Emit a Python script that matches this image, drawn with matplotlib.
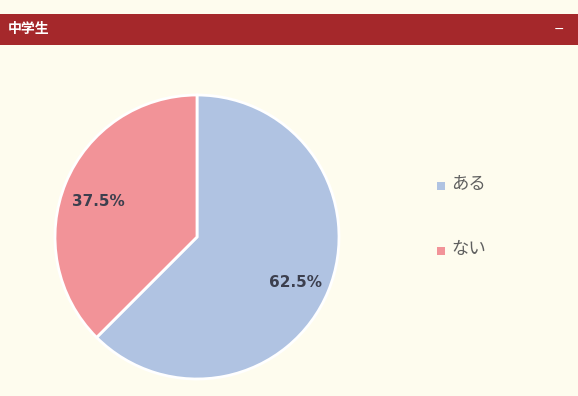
import matplotlib
matplotlib.use("Agg")
import matplotlib.pyplot as plt
from matplotlib.patches import Rectangle

plt.rcParams['font.family'] = ['Noto Sans CJK JP', 'DejaVu Sans']

title = "中学生"
labels = ["ある", "ない"]
values = [62.5, 37.5]
colors = ["#B0C3E2", "#F29398"]

W, H = 578, 396
fig = plt.figure(figsize=(W/100, H/100), dpi=100)
fig.patch.set_facecolor("#FEFCEE")

# header bar
fig.patches.append(Rectangle((0, 1 - 45/H), 1, 31/H, transform=fig.transFigure,
                             facecolor="#A5282B", edgecolor="none", zorder=0))
fig.text(8/W, 1 - 29.5/H, title, color="white", fontsize=10, fontweight="bold",
         va="center", ha="left")
fig.text(559/W, 1 - 29/H, "−", color="white", fontsize=9, va="center", ha="center",
         family=['DejaVu Sans'])

cx, cy, r = 197, 237, 142
ax = fig.add_axes([(cx - r)/W, 1 - (cy + r)/H, 2*r/W, 2*r/H])
wedges, texts, autotexts = ax.pie(values, colors=colors, startangle=90, counterclock=False,
                                  autopct="%.1f%%", pctdistance=0.75,
                                  wedgeprops=dict(edgecolor="white", linewidth=2),
                                  textprops=dict(fontsize=11, fontweight="bold", color="#3C3F4E",
                                                 family=['DejaVu Sans']))
for t in autotexts:
    x, y = t.get_position()
    t.set_position((x, y - 0.035))
ax.set_aspect("equal")
ax.set_xlim(-1, 1); ax.set_ylim(-1, 1)
ax.axis("off")

# legend
leg_y = [186, 251]
for lab, col, y in zip(labels, colors, leg_y):
    fig.patches.append(Rectangle((437/W, 1 - (y + 4)/H), 8/W, 8/H, transform=fig.transFigure,
                                 facecolor=col, edgecolor="none"))
    fig.text(451/W, 1 - (y - 2)/H, lab, color="#5F5F5F", fontsize=12.5, va="center", ha="left")

fig.savefig("out.png", dpi=100, facecolor=fig.get_facecolor())
